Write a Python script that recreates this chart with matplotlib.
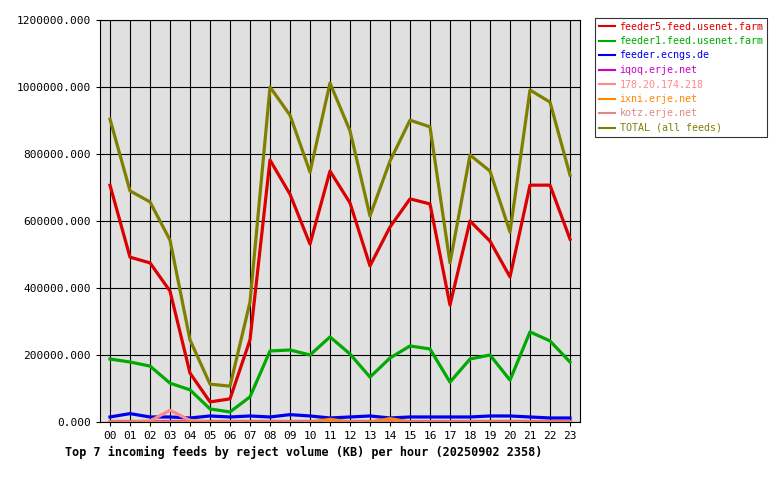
import matplotlib
matplotlib.use("Agg")
import matplotlib.pyplot as plt

hours = [f"{h:02d}" for h in range(24)]
feeder5 = [707,492,475,391,146,60,69,245,782,680,531,749,654,466,582,666,651,349,600,540,433,707,707,546]
feeder1 = [188,179,167,116,96,39,30,75,212,215,200,254,203,134,191,227,218,119,188,200,125,269,242,179]
ecngs = [15,25,15,15,12,18,15,18,15,22,18,12,15,18,12,15,15,15,15,18,18,15,12,12]
iqoq = [2]*24
ip178 = [0,0,3,35,5,0,0,0,0,0,0,0,0,0,0,0,0,0,0,0,0,0,0,0]
ixni = [0,0,0,0,0,0,0,0,0,0,0,8,0,0,10,0,0,0,0,0,0,0,0,0]
kotz = [1]*24
total = [904,690,657,543,245,113,107,358,1000,916,746,1012,869,615,779,901,881,475,797,749,567,991,955,737]

series = [
    ("feeder5.feed.usenet.farm", feeder5, "#dd0000"),
    ("feeder1.feed.usenet.farm", feeder1, "#00aa00"),
    ("feeder.ecngs.de", ecngs, "#0000ee"),
    ("iqoq.erje.net", iqoq, "#cc00cc"),
    ("178.20.174.218", ip178, "#ff8888"),
    ("ixni.erje.net", ixni, "#ff8800"),
    ("kotz.erje.net", kotz, "#dd8888"),
    ("TOTAL (all feeds)", total, "#808000"),
]

plt.rcParams['font.family'] = ['DejaVu Sans Mono']
fig = plt.figure(figsize=(7.8, 4.8), dpi=100)
ax = fig.add_axes([100/780, 58/480, 480/780, 402/480])
ax.set_facecolor("#e0e0e0")
x = list(range(24))
for name, vals, col in series:
    ax.plot(x, [v*1000 for v in vals], color=col, lw=2.3, label=name)
ax.set_xlim(-0.5, 23.5)
ax.set_ylim(0, 1200000)
ax.set_xticks(x)
ax.set_xticklabels(hours, fontsize=8)
ax.set_yticks(range(0, 1200001, 200000))
ax.set_yticklabels([f"{v}.000" for v in range(0, 1200001, 200000)], fontsize=8)
ax.grid(True, color="black", lw=0.8)
ax.set_axisbelow(True)
for s in ax.spines.values():
    s.set_color("black")
ax.tick_params(length=3)
leg = fig.legend(loc="upper left", bbox_to_anchor=(595/780, 1-18/480), fontsize=7.2,
                 frameon=True, fancybox=False, edgecolor="black", labelcolor="linecolor",
                 handlelength=1.6, handletextpad=0.5, borderpad=0.35, labelspacing=0.45,
                 borderaxespad=0)
leg.get_frame().set_linewidth(0.8)
for l in leg.get_lines():
    l.set_linewidth(1.5)
fig.text(65/780, 1-452/480, "Top 7 incoming feeds by reject volume (KB) per hour (20250902 2358)",
         fontsize=8.5, fontweight="bold", va="center")
fig.savefig("out.png")
